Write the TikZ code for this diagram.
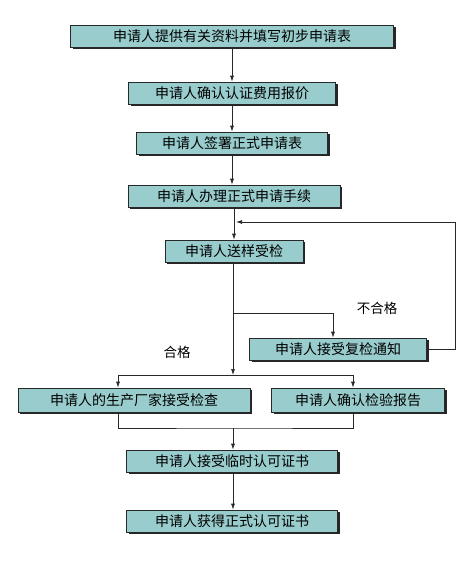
\documentclass[tikz,border=0pt]{standalone}
\usepackage{fontspec}
\usepackage{tikz}
\usetikzlibrary{arrows.meta,positioning,calc,shadows}
\setmainfont{Noto Sans CJK SC}
\definecolor{fcteal}{RGB}{153,204,204}
\definecolor{fcline}{RGB}{40,40,40}
\tikzset{
  stepbox/.style={draw=fcline, line width=0.7pt, fill=fcteal, inner sep=0pt,
    minimum height=22pt, font=\fontsize{14}{16}\selectfont,
    drop shadow={shadow xshift=2pt, shadow yshift=-2pt, fill=black!85, opacity=1}},
  arr/.style={-{Latex[length=6pt,width=4pt]}, fcline, line width=0.7pt},
  ln/.style={fcline, line width=0.7pt},
  lbl/.style={font=\fontsize{13.5}{16}\selectfont},
}
\begin{document}
\begin{tikzpicture}[x=1pt, y=-1pt]
  \useasboundingbox (0,0) rectangle (476,562);
  % main chain
  \node[stepbox, minimum width=323pt] (apply)   at (232,36)  {申请人提供有关资料并填写初步申请表};
  \node[stepbox, minimum width=207pt] (quote)   at (232,93)  {申请人确认认证费用报价};
  \node[stepbox, minimum width=191pt] (sign)    at (232,143) {申请人签署正式申请表};
  \node[stepbox, minimum width=212pt] (formal)  at (234,196) {申请人办理正式申请手续};
  \node[stepbox, minimum width=138pt] (sample)  at (234,251) {申请人送样受检};
  \node[stepbox, minimum width=177pt] (recheck) at (338,349) {申请人接受复检通知};
  \node[stepbox, minimum width=232pt, minimum height=24pt] (factory) at (134,400) {申请人的生产厂家接受检查};
  \node[stepbox, minimum width=173pt, minimum height=24pt] (report)  at (358,400) {申请人确认检验报告};
  \node[stepbox, minimum width=211pt] (temp)    at (232,461) {申请人接受临时认可证书};
  \node[stepbox, minimum width=211pt] (final)   at (232,521) {申请人获得正式认可证书};
  % labels
  \node[lbl] (fail) at (377,308) {不合格};
  \node[lbl] (pass) at (177,352) {合格};
  % helper points
  \coordinate (back)  at (455,222);
  \coordinate (split) at (233,313);
  \coordinate (fork)  at (233,375);
  \coordinate (fl)    at (118,375);
  \coordinate (fr)    at (353,375);
  \coordinate (join)  at (233,428);
  % connectors
  \draw[arr] (apply) -- (quote);
  \draw[arr] (quote) -- (sign);
  \draw[arr] (sign.south) -- (sign.south |- formal.north);
  \draw[arr] (formal) -- (sample);
  \draw[arr] (recheck.east) -| (back) -- ([xshift=2pt]sample.north |- back);
  \draw[arr] (split) -| ([xshift=-5pt]recheck.north);
  \draw[arr] (sample.south -| fork) -- (fork);
  \draw[ln] (fl) -- (fr);
  \draw[arr] (fl) -- (fl |- factory.north);
  \draw[arr] (fr) -- (fr |- report.north);
  \draw[ln] (fl |- factory.south) |- (join) -| (fr |- report.south);
  \draw[arr] (join) -- (join |- temp.north);
  \draw[arr] (temp.south -| join) -- (join |- final.north);
\end{tikzpicture}
\end{document}
